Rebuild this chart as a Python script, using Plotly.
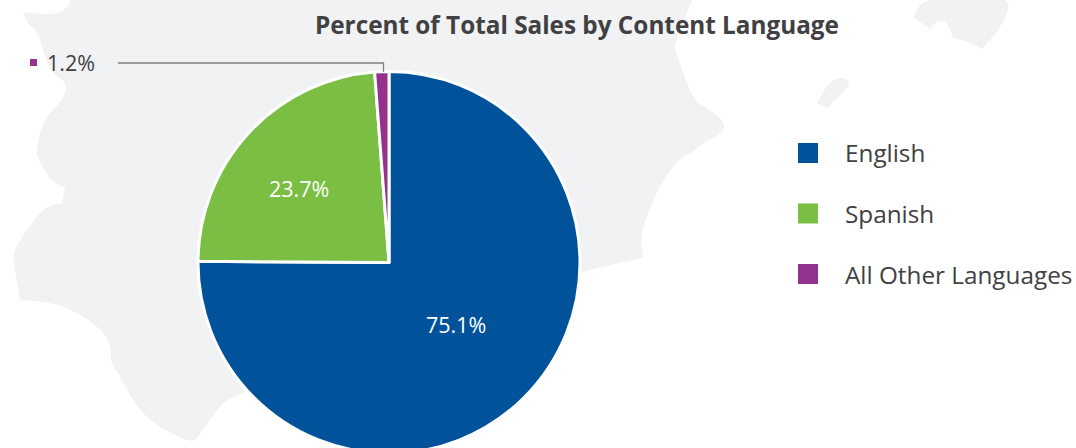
import plotly.graph_objects as go

W, H = 1076, 460  # figure is slightly taller than the window: the pie runs off the bottom edge

title = "Percent of Total Sales by Content Language"
languages = ["English", "Spanish", "All Other Languages"]
shares = [75.1, 23.7, 1.2]
colors = ["#00539B", "#7ABF43", "#93338D"]
TEXT = "#414042"
MAP = "#F1F2F4"

CX, CY, R = 389, 262.5, 191


def fx(x):
    return x / W


def fy(y):
    return 1 - y / H


def smooth(points, closed=True):
    """Quadratic smoothing through edge midpoints; a repeated point stays a sharp corner."""
    pts = [(fx(x), fy(y)) for x, y in points]
    n = len(pts)
    mid = lambda a, b: ((a[0] + b[0]) / 2, (a[1] + b[1]) / 2)
    m0 = mid(pts[-1], pts[0])
    d = f"M{m0[0]:.5f},{m0[1]:.5f}"
    for i in range(n):
        m = mid(pts[i], pts[(i + 1) % n])
        d += f" Q{pts[i][0]:.5f},{pts[i][1]:.5f} {m[0]:.5f},{m[1]:.5f}"
    return d + " Z"


mainland = [
    (72, -6), (69, 6), (58, 14), (40, 14), (23, 12), (23, 12), (28, 25), (37, 30), (43, 50), (50, 72),
    (68, 83), (63, 100), (43, 120), (36, 150), (37, 157), (50, 180), (65, 188), (65, 188), (62, 203), (62, 203),
    (43, 207), (15, 247), (13, 260), (20, 300), (20, 300), (60, 303), (100, 327), (112, 347), (110, 363),
    (120, 375), (128, 393), (147, 420), (190, 443), (198, 438), (223, 400), (248, 392),
    (389, 320), (582, 272), (610, 265), (643, 258), (643, 258), (640, 233), (657, 190), (677, 160),
    (693, 152), (703, 143), (723, 133), (725, 122), (707, 108), (693, 100), (675, 50),
    (675, 43), (692, 0), (695, -6),
]
island_a = [(817, 103), (817, 103), (827, 108), (827, 108), (848, 88), (850, 80), (838, 77), (827, 85)]
island_b = [(925, -4), (913, 17), (913, 17), (930, 29), (930, 29), (937, 21), (947, 21), (953, 38), (953, 38), (972, 43),
            (982, 49), (982, 49), (1003, 25), (1013, -6)]

shapes = [
    dict(type="path", path=smooth(p), xref="paper", yref="paper", fillcolor=MAP,
         line=dict(width=0), layer="below")
    for p in (mainland, island_a, island_b)
]

annotations = [
    dict(text=f"<b>{title}</b>", x=fx(577), y=fy(24), xanchor="center", yanchor="middle", showarrow=False,
         font=dict(family="Open Sans", size=24.3, color=TEXT)),
    dict(text=f"{shares[0]}%", x=fx(456), y=fy(324), xanchor="center", yanchor="middle", showarrow=False,
         font=dict(family="Open Sans", size=21.5, color="white")),
    dict(text=f"{shares[1]}%", x=fx(299), y=fy(188), xanchor="center", yanchor="middle", showarrow=False,
         font=dict(family="Open Sans", size=21.5, color="white")),
    dict(text=f"{shares[2]}%", x=fx(47), y=fy(62), xanchor="left", yanchor="middle", showarrow=False, xshift=-2,
         font=dict(family="Open Sans", size=21.5, color=TEXT)),
]

# small marker and leader line of the outside label
shapes.append(dict(type="rect", xref="paper", yref="paper", x0=fx(30), x1=fx(37), y0=fy(59), y1=fy(66),
                   fillcolor=colors[2], line=dict(width=0), layer="above"))
shapes.append(dict(type="path", xref="paper", yref="paper",
                   path=f"M{fx(118)},{fy(63)} L{fx(383.5)},{fy(63)} L{fx(383.5)},{fy(72)}",
                   line=dict(color="#808080", width=1.3), layer="above"))

# legend
for i, (name, c) in enumerate(zip(languages, colors)):
    yc = 153 + i * 60.5
    shapes.append(dict(type="rect", xref="paper", yref="paper", x0=fx(798), x1=fx(818),
                       y0=fy(yc - 10), y1=fy(yc + 10), fillcolor=c, line=dict(width=0), layer="above"))
    annotations.append(dict(text=name, x=fx(845), y=fy(yc), xanchor="left", yanchor="middle", showarrow=False, xshift=-2,
                            font=dict(family="Open Sans", size=24.3, color=TEXT)))

fig = go.Figure(go.Pie(
    labels=languages,
    values=shares,
    marker=dict(colors=colors, line=dict(color="white", width=3)),
    sort=False,
    direction="clockwise",
    rotation=0,
    textinfo="none",
    hoverinfo="label+percent",
    domain=dict(x=[fx(CX - R), fx(CX + R)], y=[fy(CY + R), fy(CY - R)]),
))

fig.update_layout(
    width=W, height=H,
    margin=dict(l=0, r=0, t=0, b=0),
    paper_bgcolor="white",
    showlegend=False,
    shapes=shapes,
    annotations=annotations,
)

fig.write_html(
    "out.html",
    config=dict(displayModeBar=False),
    post_script="document.documentElement.style.overflow='hidden';document.body.style.overflow='hidden';document.body.style.margin='0';",
)
